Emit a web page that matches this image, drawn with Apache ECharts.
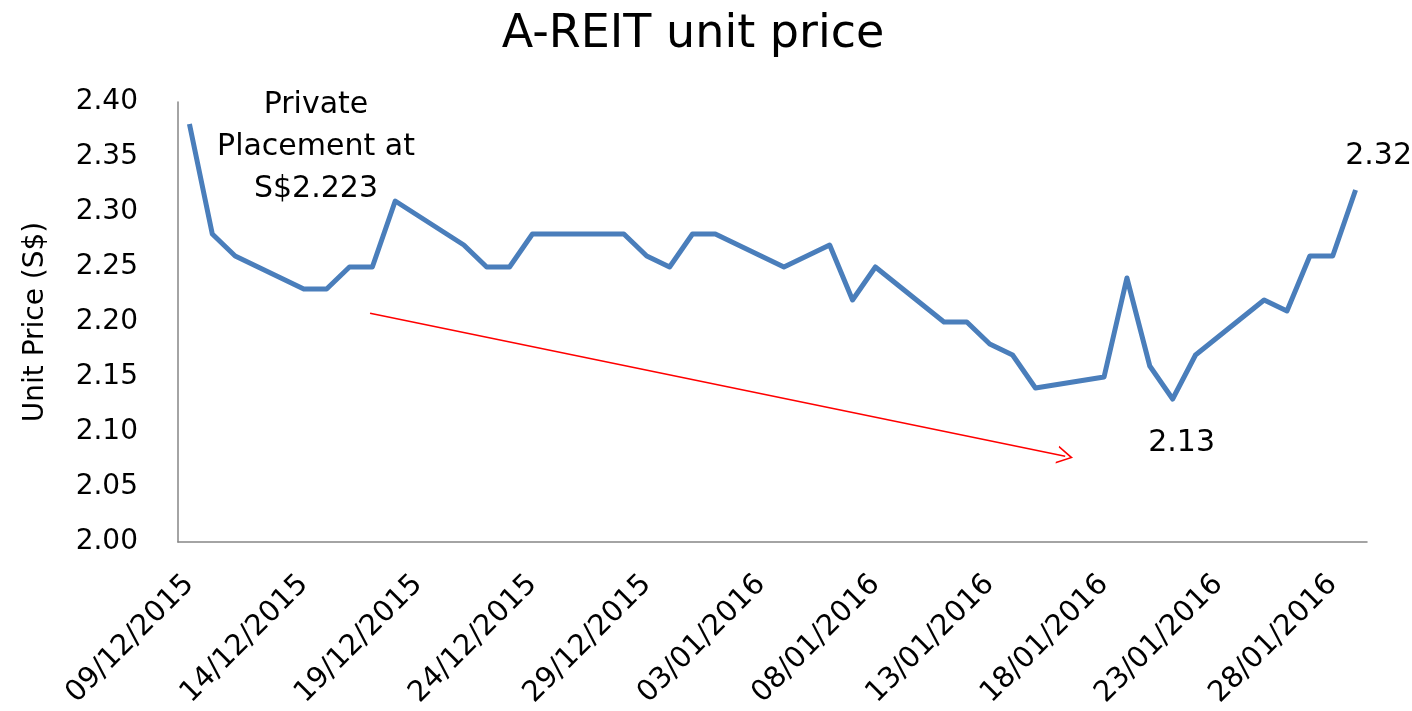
<!DOCTYPE html>
<html>
<head>
<meta charset="utf-8">
<title>A-REIT unit price</title>
<script src="https://cdn.jsdelivr.net/npm/echarts@6/dist/echarts.min.js"></script>
<style>
    html, body { margin: 0; padding: 0; background: #fff; }
    #chart { width: 1412px; height: 711px; }
</style>
</head>
<body>
<div id="chart"></div>
<script>
    // 交易日 与 收盘价
    var tradeDates = ['2015-12-09', '2015-12-10', '2015-12-11', '2015-12-14', '2015-12-15',
        '2015-12-16', '2015-12-17', '2015-12-18', '2015-12-21', '2015-12-22', '2015-12-23',
        '2015-12-24', '2015-12-28', '2015-12-29', '2015-12-30', '2015-12-31', '2016-01-01',
        '2016-01-04', '2016-01-05', '2016-01-06', '2016-01-07', '2016-01-08', '2016-01-11',
        '2016-01-12', '2016-01-13', '2016-01-14', '2016-01-15', '2016-01-18', '2016-01-19',
        '2016-01-20', '2016-01-21', '2016-01-22', '2016-01-25', '2016-01-26', '2016-01-27',
        '2016-01-28', '2016-01-29'];
    var prices = [2.38, 2.28, 2.26, 2.23, 2.23,
        2.25, 2.25, 2.31, 2.27, 2.25, 2.25,
        2.28, 2.28, 2.26, 2.25, 2.28, 2.28,
        2.25, 2.26, 2.27, 2.22, 2.25, 2.20,
        2.20, 2.18, 2.17, 2.14, 2.15, 2.24,
        2.16, 2.13, 2.17, 2.22, 2.21, 2.26,
        2.26, 2.32];

    // x轴刻度标签 (每5天)
    var tickDates = ['2015-12-09', '2015-12-14', '2015-12-19', '2015-12-24', '2015-12-29',
        '2016-01-03', '2016-01-08', '2016-01-13', '2016-01-18', '2016-01-23', '2016-01-28'];
    var axisStart = '2015-12-09';
    var axisEnd = '2016-01-29';

    // 标注: 最高/最低点 与 趋势箭头
    var calloutDates = ['2016-01-29', '2016-01-21'];
    var trendArrow = [[7.9, 2.208], [38.3, 2.078]];

    var DAY = 86400000;
    var FONT = 'DejaVu Sans';

    function toDay(s) {
        return (Date.parse(s + 'T00:00:00Z') - Date.parse(axisStart + 'T00:00:00Z')) / DAY;
    }

    function dayLabel(d) {
        var dt = new Date(Date.parse(axisStart + 'T00:00:00Z') + Math.round(d) * DAY);
        var dd = ('0' + dt.getUTCDate()).slice(-2);
        var mm = ('0' + (dt.getUTCMonth() + 1)).slice(-2);
        return dd + '/' + mm + '/' + dt.getUTCFullYear();
    }

    var seriesData = tradeDates.map(function(d, i) {
        return [toDay(d), prices[i]];
    });

    var calloutPoints = calloutDates.map(function(d, i) {
        var v = prices[tradeDates.indexOf(d)];
        return {
            coord: [toDay(d), v],
            value: v.toFixed(2),
            label: { offset: i === 0 ? [23, -34] : [9, 44] }
        };
    });

    var myChart = echarts.init(document.getElementById('chart'));

    var option = {
        backgroundColor: '#fff',
        animation: false,
        title: {
            text: 'A-REIT unit price',
            left: 688,
            textAlign: 'center',
            top: 7,
            textStyle: { fontFamily: FONT, fontSize: 46, fontWeight: 'normal', color: '#000' }
        },
        grid: { left: 178, right: 45, top: 102, bottom: 169, outerBoundsMode: 'none', containLabel: false },
        xAxis: {
            type: 'value',
            min: toDay(axisStart) - 0.5,
            max: toDay(axisEnd) + 0.5,
            axisLine: { show: true, onZero: false, lineStyle: { color: '#868686', width: 1.5 } },
            axisTick: { show: false },
            splitLine: { show: false },
            axisLabel: {
                customValues: tickDates.map(toDay),
                rotate: 45,
                margin: 38,
                fontFamily: FONT,
                fontSize: 29,
                color: '#000',
                formatter: function(v) { return dayLabel(v); }
            }
        },
        yAxis: {
            type: 'value',
            min: 2.0,
            max: 2.4,
            interval: 0.05,
            name: 'Unit Price (S$)',
            nameLocation: 'middle',
            nameGap: 128,
            nameTextStyle: { fontFamily: FONT, fontSize: 28, color: '#000' },
            axisLine: { show: true, onZero: false, lineStyle: { color: '#868686', width: 1.5 } },
            axisTick: { show: false },
            splitLine: { show: false },
            axisLabel: {
                margin: 40,
                fontFamily: FONT,
                fontSize: 28,
                color: '#000',
                formatter: function(v) { return v.toFixed(2); }
            }
        },
        graphic: [{
            type: 'text',
            x: 316,
            y: 84,
            style: {
                text: 'Private\nPlacement at\nS$2.223',
                align: 'center',
                fontFamily: FONT,
                fontSize: 30,
                lineHeight: 42,
                fill: '#000'
            }
        }],
        series: [{
            type: 'line',
            data: seriesData,
            symbol: 'none',
            lineStyle: { color: '#4A7EBB', width: 5, join: 'round' },
            markPoint: {
                symbol: 'circle',
                symbolSize: 0,
                label: {
                    show: true,
                    position: 'inside',
                    fontFamily: FONT,
                    fontSize: 30,
                    color: '#000',
                    formatter: function(p) { return p.value; }
                },
                data: calloutPoints
            },
            markLine: {
                silent: true,
                symbol: ['none', 'path://M0,10 L5,0 L10,10 L9,10 L5,2 L1,10 Z'],
                symbolSize: [18, 16],
                label: { show: false },
                lineStyle: { color: '#ff0000', width: 1.5, type: 'solid' },
                data: [[{ coord: trendArrow[0] }, { coord: trendArrow[1] }]]
            }
        }]
    };

    myChart.setOption(option);
</script>
</body>
</html>
